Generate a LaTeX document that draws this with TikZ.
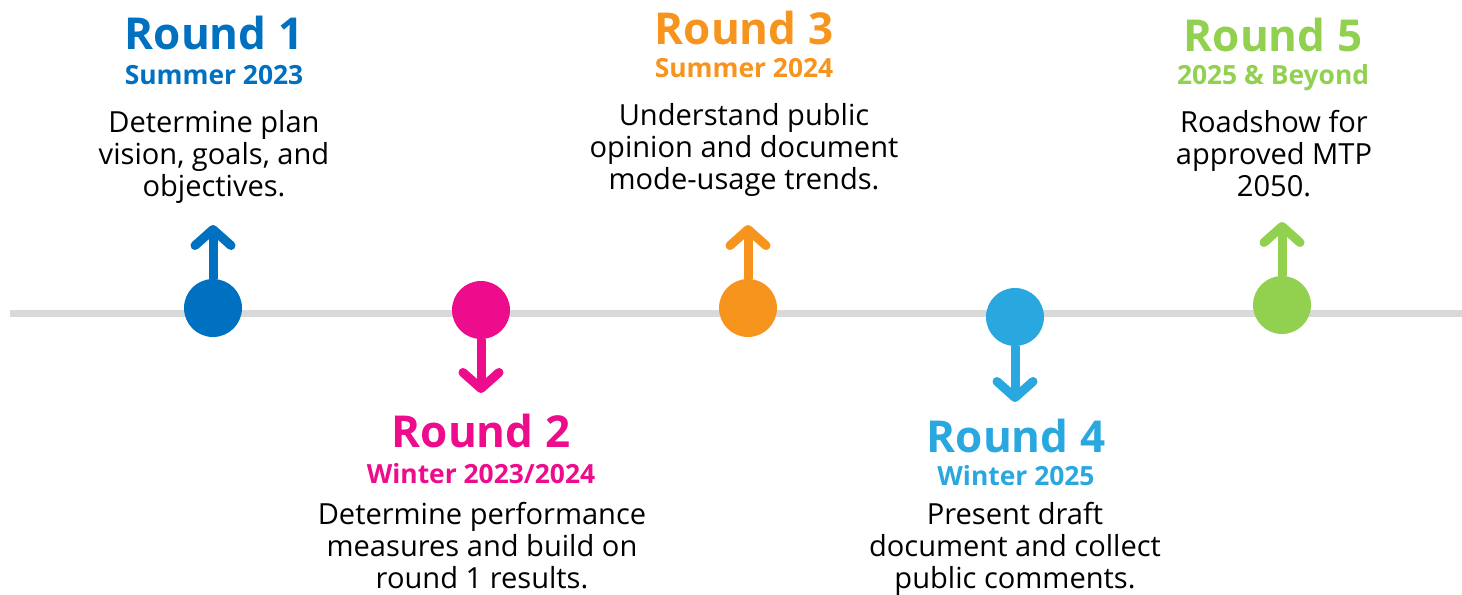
\documentclass[tikz,border=0pt]{standalone}
\usepackage{fontspec}
\setmainfont{Open Sans}
\usetikzlibrary{arrows.meta}
\definecolor{rblue}{HTML}{0070C0}
\definecolor{rpink}{HTML}{EC0C8C}
\definecolor{rorange}{HTML}{F7941D}
\definecolor{rsky}{HTML}{29A8E0}
\definecolor{rgreen}{HTML}{92D050}
\definecolor{rgray}{HTML}{D9D9D9}
\tikzset{
	dot/.style={circle,fill=#1,minimum size=43.5pt,inner sep=0},
	pointer/.style={#1,line width=6.75pt,-{Straight Barb[length=12pt,width=27pt,round]}},
	rname/.style={text=#1,font=\fontsize{33}{33}\selectfont\bfseries,anchor=base,inner sep=0},
	rdate/.style={text=#1,font=\fontsize{19.8}{20}\selectfont\bfseries,anchor=base,inner sep=0},
	rnote/.style={font=\fontsize{21.8}{24}\selectfont,align=center,anchor=base,inner sep=0}
}
\begin{document}
\begin{tikzpicture}[x=0.75pt,y=-0.75pt]
	\useasboundingbox (0,0) rectangle (1462,595);
	\path
	(10,313) coordinate (L0)
	(1462,313) coordinate (L1)
	(213,225) coordinate (T1)
	(481,393) coordinate (T2)
	(748,225) coordinate (T3)
	(1015,402) coordinate (T4)
	(1282,222) coordinate (T5);
	\draw[rgray,line width=5.25pt] (L0)--(L1);
	% dots on the line
	\node[dot=rblue] (D1) at (213,308) {};
	\node[dot=rpink] (D2) at (481,310) {};
	\node[dot=rorange] (D3) at (748,308) {};
	\node[dot=rsky] (D4) at (1015,317) {};
	\node[dot=rgreen] (D5) at (1282,305) {};
	\draw[pointer=rblue] (D1.north)--(T1);
	\draw[pointer=rpink] (D2.south)--(T2);
	\draw[pointer=rorange] (D3.north)--(T3);
	\draw[pointer=rsky] (D4.south)--(T4);
	\draw[pointer=rgreen] (D5.north)--(T5);
	% round 1
	\node[rname=rblue] (N1) at (214,50) {Round 1};
	\node[rdate=rblue] (W1) at (214,85) {Summer 2023};
	\node[rnote] (R1) at (214,197) {Determine plan\\vision, goals, and\\objectives.};
	% round 2
	\node[rname=rpink] (N2) at (481,447) {Round 2};
	\node[rdate=rpink] (W2) at (481,483) {Winter 2023/2024};
	\node[rnote] (R2) at (482,588) {Determine performance\\measures and build on\\round 1 results.};
	% round 3
	\node[rname=rorange] (N3) at (744,45) {Round 3};
	\node[rdate=rorange] (W3) at (744,78) {Summer 2024};
	\node[rnote] (R3) at (744,190) {Understand public\\opinion and document\\mode-usage trends.};
	% round 4
	\node[rname=rsky] (N4) at (1016,452) {Round 4};
	\node[rdate=rsky] (W4) at (1016,485) {Winter 2025};
	\node[rnote] (R4) at (1015,588) {Present draft\\document and collect\\public comments.};
	% round 5
	\node[rname=rgreen] (N5) at (1273,52) {Round 5};
	\node[rdate=rgreen] (W5) at (1273,85) {2025 \& Beyond};
	\node[rnote] (R5) at (1274,197) {Roadshow for\\approved MTP\\2050.};
\end{tikzpicture}
\end{document}
